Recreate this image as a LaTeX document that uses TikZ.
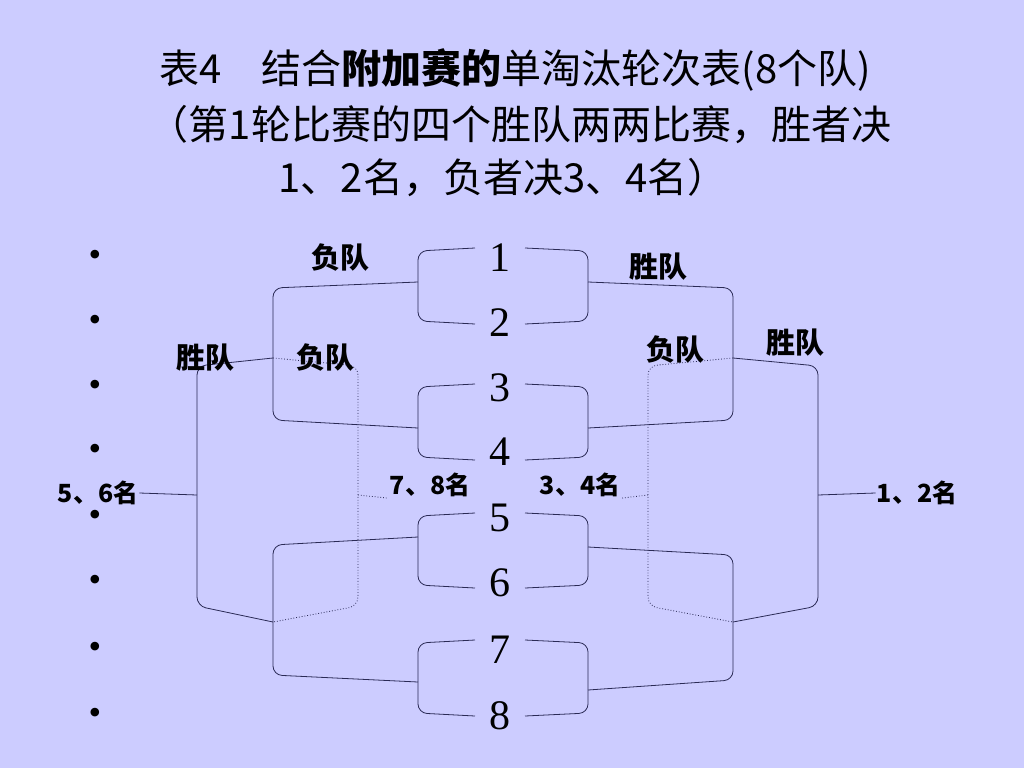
\documentclass[tikz,border=0pt]{standalone}
\usepackage{fontspec}
\setmainfont{Liberation Serif}
\newfontfamily\cjk{Noto Sans CJK SC}
\definecolor{bg}{HTML}{CCCCFF}
\definecolor{ln}{HTML}{2A2A55}
\begin{document}
\begin{tikzpicture}[x=1pt,y=-1pt,
  br/.style={draw=ln,line width=0.8pt,rounded corners=9pt},
  dt/.style={draw=ln,line width=0.8pt,dotted,rounded corners=9pt},
  num/.style={font=\fontsize{42}{42}\selectfont,inner sep=1pt},
  lab/.style={font=\cjk\bfseries\fontsize{29}{29}\selectfont,inner sep=1pt},
  sml/.style={font=\cjk\bfseries\fontsize{25}{25}\selectfont,inner sep=1pt},
  ttl/.style={font=\cjk\fontsize{40}{40}\selectfont,inner sep=0pt}]
\fill[bg] (0,0) rectangle (1024,768);
\useasboundingbox (0,0) rectangle (1024,768);
\node[ttl] (t1) at (515,70) {表4\quad 结合{\bfseries 附加赛的}单淘汰轮次表(8个队)};
\node[ttl] (t2) at (520,125) {（第1轮比赛的四个胜队两两比赛，胜者决};
\node[ttl] (t3) at (503,178) {1、2名，负者决3、4名）};
\foreach \i/\y in {1/258,2/323,3/388,4/452,5/518,6/583,7/650,8/716}{
  \node[num] (n\i) at (500,\y) {\i};
  \node[font=\fontsize{36}{36}\selectfont] (b\i) at (95,\y) {•};
}
% first round
\foreach \a/\b in {248/324,384/460,513/588,640/716}{
  \draw[br] (475,\a) -- (418,\a+3) -- (418,\b-3) -- (475,\b);
  \draw[br] (525,\a) -- (588,\a+3) -- (588,\b-3) -- (525,\b);
}
% second round left
\draw[br] (418,282) -- (273,288) -- (273,420) -- (418,428);
\draw[br] (418,537) -- (273,545) -- (273,675) -- (418,682);
% second round right
\draw[br] (588,282) -- (733,288) -- (733,420) -- (588,428);
\draw[br] (588,547) -- (733,555) -- (733,680) -- (588,690);
% left final
\draw[br] (273,358) -- (197,366) -- (197,606) -- (273,622);
\draw[dt] (273,358) -- (358,366) -- (358,606) -- (273,622);
\coordinate (l56) at (197,495); \coordinate (l78) at (358,495);
\node[sml] (p56) at (98,493) {5、6名};
\node[sml] (p78) at (430,485) {7、8名};
\draw[ln,line width=0.8pt] (l56) -- (p56.east);
\draw[ln,line width=0.8pt,dotted] (l78) -- (p78.south west);
% right final
\draw[br] (733,358) -- (818,366) -- (818,606) -- (733,622);
\draw[dt] (733,358) -- (648,366) -- (648,606) -- (733,622);
\coordinate (r12) at (818,495); \coordinate (r34) at (648,495);
\node[sml] (p12) at (917,493) {1、2名};
\node[sml] (p34) at (580,485) {3、4名};
\draw[ln,line width=0.8pt] (r12) -- (p12.west);
\draw[ln,line width=0.8pt,dotted] (r34) -- (p34.south east);
% labels
\node[lab] (f1) at (340,258) {负队};
\node[lab] (w1) at (658,267) {胜队};
\node[lab] (w2) at (205,358) {胜队};
\node[lab] (f2) at (325,358) {负队};
\node[lab] (f3) at (675,350) {负队};
\node[lab] (w3) at (795,343) {胜队};
\end{tikzpicture}
\end{document}
